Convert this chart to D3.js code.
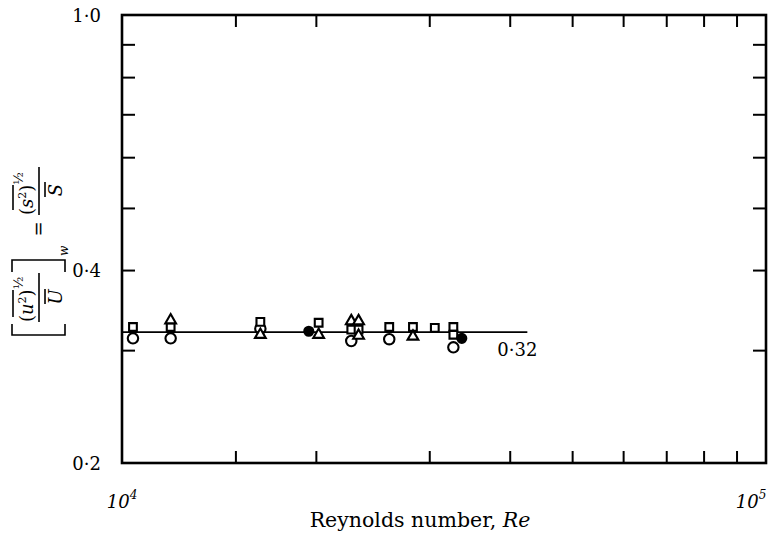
<!DOCTYPE html>
<html lang="en">
<head>
  <meta charset="UTF-8" />
  <title>Turbulence intensity vs Reynolds number</title>
  <script src="https://d3js.org/d3.v7.min.js"></script>
  <style>
    body { margin: 0; background: #fff; }
    svg { display: block; font-family: "DejaVu Serif", "Liberation Serif", serif; }
    .tick line { stroke: #000; stroke-width: 2; }
    .mark { stroke: #000; stroke-width: 2.1; }
  </style>
</head>
<body>
  <svg id="chart" width="777" height="537"></svg>
  <script>
    // data: [Reynolds number, intensity]
    const circles = [[1.04e4, 0.313], [1.19e4, 0.313], [1.64e4, 0.324], [2.27e4, 0.310], [2.60e4, 0.312], [3.27e4, 0.303]];
    const squares = [[1.04e4, 0.326], [1.19e4, 0.326], [1.64e4, 0.332], [2.02e4, 0.331], [2.27e4, 0.323], [2.33e4, 0.323],
                     [2.60e4, 0.326], [2.83e4, 0.326], [3.06e4, 0.325], [3.27e4, 0.326], [3.27e4, 0.317]];
    const triangles = [[1.19e4, 0.334], [1.64e4, 0.317], [2.02e4, 0.317], [2.27e4, 0.333], [2.33e4, 0.333], [2.33e4, 0.316], [2.83e4, 0.315]];
    const filled = [[1.95e4, 0.321], [3.37e4, 0.313]];

    const meanValue = 0.32;
    const meanLabel = "0·32";
    const meanRange = [1e4, 4.26e4];

    const xTicks = [1.5e4, 2e4, 3e4, 4e4, 5e4, 6e4, 7e4, 8e4, 9e4];
    const xLabelValues = [1e4, 1e5];
    const xLabelExp = ["4", "5"];
    const yTicks = [0.3, 0.4, 0.5, 0.6, 0.7, 0.8, 0.9];
    const yLabelValues = [0.2, 0.4, 1.0];
    const yLabelText = ["0·2", "0·4", "1·0"];

    const margin = { left: 122, right: 11, top: 15, bottom: 74 };
    const width = 777, height = 537;
    const svg = d3.select("#chart");

    const x = d3.scaleLog().domain([1e4, 1e5]).range([margin.left, width - margin.right]);
    const y = d3.scaleLog().domain([0.2, 1.0]).range([height - margin.bottom, margin.top]);

    // inward ticks on all four sides
    const axes = [
      [d3.axisBottom(x).tickValues(xTicks).tickSize(-12), `translate(0,${y(0.2)})`],
      [d3.axisTop(x).tickValues(xTicks).tickSize(-12), `translate(0,${y(1.0)})`],
      [d3.axisLeft(y).tickValues(yTicks).tickSize(-13), `translate(${x(1e4)},0)`],
      [d3.axisRight(y).tickValues(yTicks).tickSize(-13), `translate(${x(1e5)},0)`]
    ];
    axes.forEach(([ax, tr]) => {
      const g = svg.append("g").attr("transform", tr).call(ax.tickFormat(""));
      g.select(".domain").remove();
    });

    // frame
    svg.append("rect")
      .attr("x", x(1e4)).attr("y", y(1.0))
      .attr("width", x(1e5) - x(1e4)).attr("height", y(0.2) - y(1.0))
      .attr("fill", "none").attr("stroke", "#000").attr("stroke-width", 2.6);

    // y tick labels
    svg.append("g").selectAll("text")
      .data(yLabelValues)
      .join("text")
      .attr("x", x(1e4) - 21)
      .attr("y", d => y(d) + 7)
      .attr("text-anchor", "end")
      .attr("font-size", 18)
      .text((d, i) => yLabelText[i]);

    // x tick labels (powers of ten)
    const xl = svg.append("g").selectAll("text")
      .data(xLabelValues)
      .join("text")
      .attr("x", d => Math.min(x(d), width - 26))
      .attr("y", y(0.2) + 45)
      .attr("text-anchor", "middle")
      .attr("font-size", 18)
      .attr("font-style", "italic");
    xl.append("tspan").text("10");
    xl.append("tspan").attr("dy", -9).attr("font-size", 12).text((d, i) => xLabelExp[i]);

    // x axis title
    const xt = svg.append("text")
      .attr("x", 420).attr("y", 527)
      .attr("text-anchor", "middle")
      .attr("font-size", 20.5);
    xt.append("tspan").text("Reynolds number, ");
    xt.append("tspan").attr("font-style", "italic").text("Re");

    // mean line
    svg.append("line")
      .attr("x1", x(meanRange[0])).attr("x2", x(meanRange[1]))
      .attr("y1", y(meanValue)).attr("y2", y(meanValue))
      .attr("stroke", "#000").attr("stroke-width", 1.7);
    svg.append("text")
      .attr("x", x(meanRange[1]) - 30).attr("y", y(meanValue) + 24)
      .attr("font-size", 18)
      .text(meanLabel);

    // markers
    const sym = (type, size) => d3.symbol().type(type).size(size)();
    const series = [
      [circles, sym(d3.symbolCircle, 85), "none"],
      [squares, sym(d3.symbolSquare, 60), "#fff"],
      [triangles, sym(d3.symbolTriangle, 50), "#fff"],
      [filled, sym(d3.symbolCircle, 64), "#000"]
    ];
    series.forEach(([data, path, fill]) => {
      svg.append("g").selectAll("path")
        .data(data)
        .join("path")
        .attr("class", "mark")
        .attr("d", path)
        .style("fill", fill)
        .attr("transform", d => `translate(${x(d[0])},${y(d[1])})`);
    });

    // rotated y label: [ (u²)^½ / U ]_w = (s²)^½ / S
    const lab = svg.append("g")
      .attr("transform", "translate(0,335) rotate(-90)")
      .attr("font-size", 18);
    const ln = (d) => lab.append("path").attr("d", d).attr("fill", "none").attr("stroke", "#000").attr("stroke-width", 1.6);

    ln("M11,12 L0,12 L0,65 L11,65");
    const nu = lab.append("text").attr("x", 13).attr("y", 33);
    nu.append("tspan").text("(");
    nu.append("tspan").attr("font-style", "italic").text("u");
    nu.append("tspan").attr("dy", -7).attr("font-size", 11).text("2");
    nu.append("tspan").attr("dy", 7).text(")");
    nu.append("tspan").attr("dy", -10).attr("font-size", 13).text("½");
    ln("M18,13 L45,13");
    ln("M13,39 L62,39");
    lab.append("text").attr("x", 38).attr("y", 62).attr("text-anchor", "middle").attr("font-style", "italic").text("U");
    ln("M31,45 L46,45");
    ln("M63,12 L75,12 L75,65 L63,65");
    lab.append("text").attr("x", 79).attr("y", 68).attr("font-size", 12).attr("font-style", "italic").text("w");
    lab.append("text").attr("x", 106).attr("y", 45).attr("text-anchor", "middle").text("=");

    const ns = lab.append("text").attr("x", 120).attr("y", 33);
    ns.append("tspan").text("(");
    ns.append("tspan").attr("font-style", "italic").text("s");
    ns.append("tspan").attr("dy", -7).attr("font-size", 11).text("2");
    ns.append("tspan").attr("dy", 7).text(")");
    ns.append("tspan").attr("dy", -10).attr("font-size", 13).text("½");
    ln("M125,13 L150,13");
    ln("M120,39 L168,39");
    lab.append("text").attr("x", 145).attr("y", 62).attr("text-anchor", "middle").attr("font-style", "italic").text("S");
    ln("M138,45 L153,45");
  </script>
</body>
</html>
